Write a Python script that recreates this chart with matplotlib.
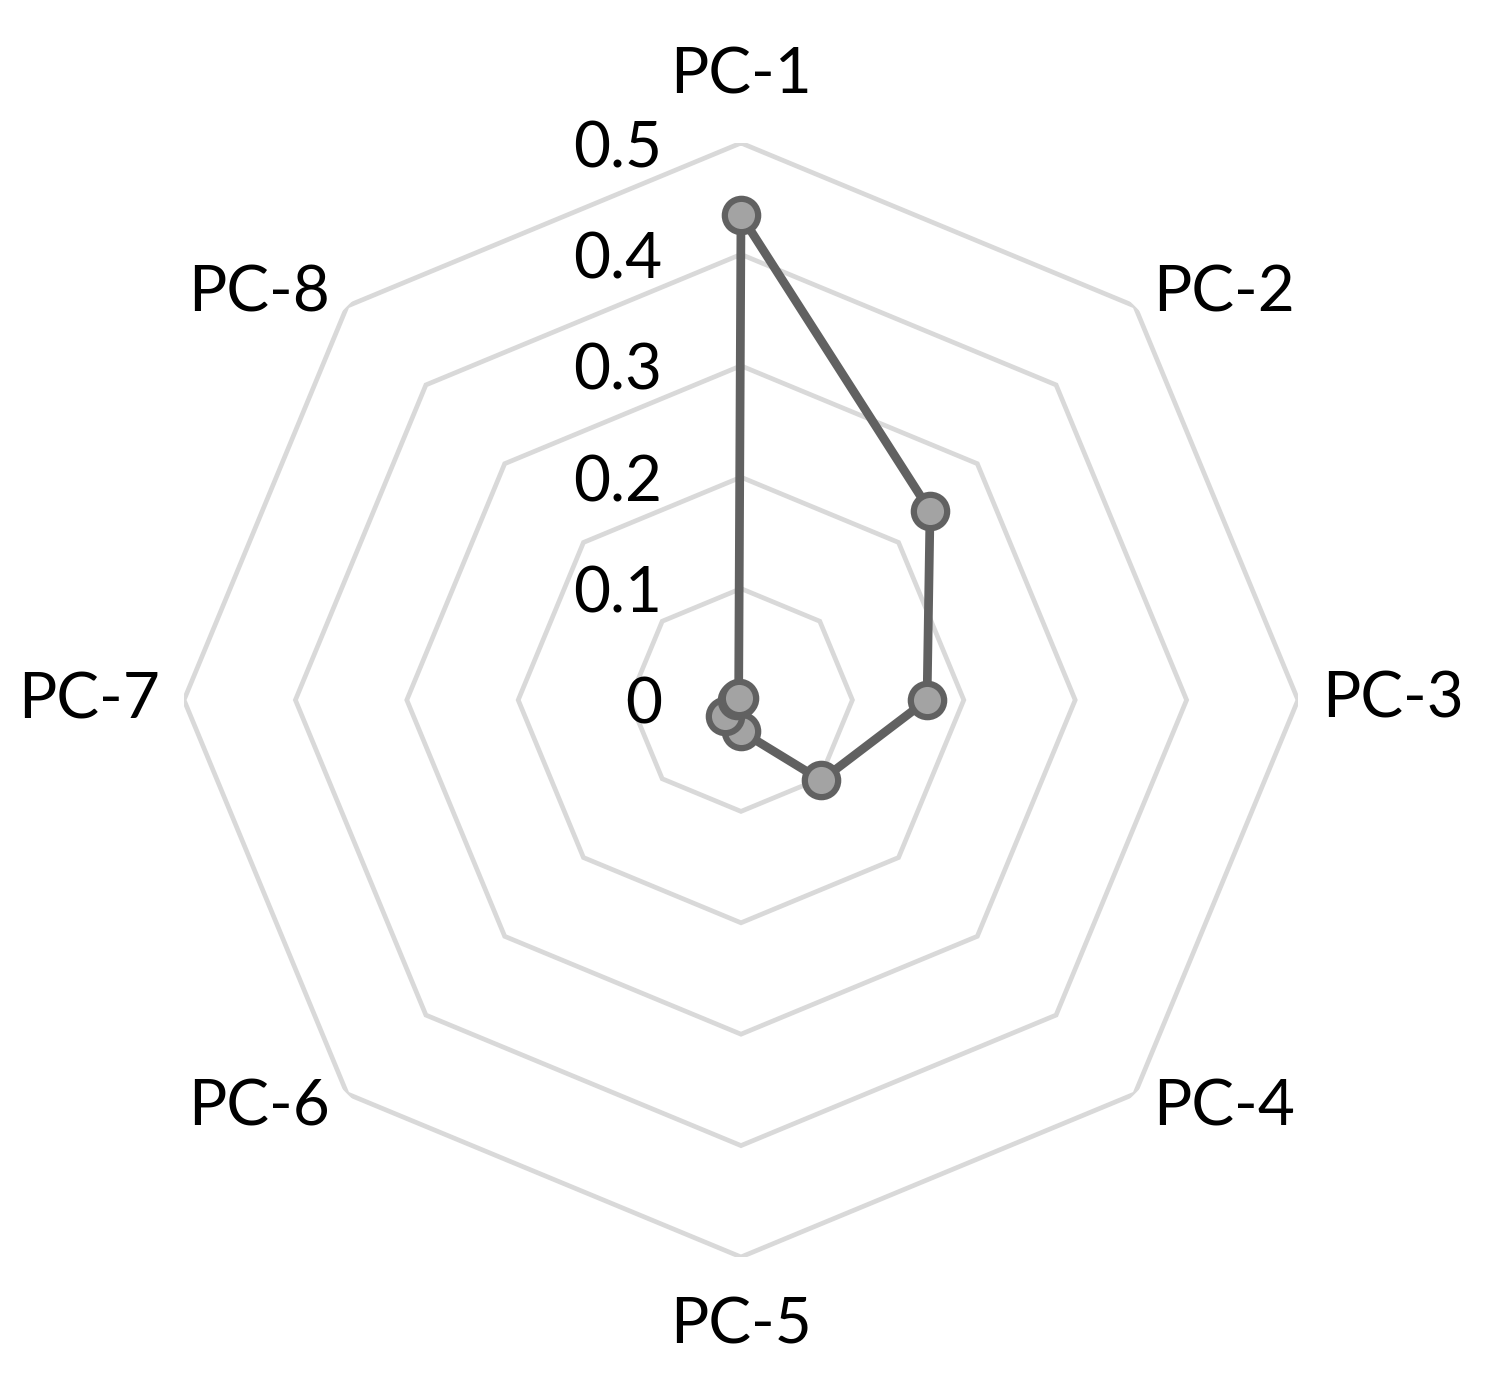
import numpy as np
import matplotlib
matplotlib.use("Agg")
import matplotlib.pyplot as plt

categories = ["PC-1", "PC-2", "PC-3", "PC-4", "PC-5", "PC-6", "PC-7", "PC-8"]
values = [0.435, 0.24, 0.167, 0.102, 0.028, 0.02, 0.004, 0.003]
rings = [0.1, 0.2, 0.3, 0.4, 0.5]
ring_labels = ["0", "0.1", "0.2", "0.3", "0.4", "0.5"]

plt.rcParams["font.family"] = ["Lato", "DejaVu Sans"]

W, H = 1488, 1380
cx, cy, R = 741, 700, 557
fig = plt.figure(figsize=(W / 100, H / 100), dpi=100)
ax = fig.add_axes([(cx - R) / W, (H - cy - R) / H, 2 * R / W, 2 * R / H],
                  projection="polar")
ax.set_theta_offset(np.pi / 2)
ax.set_theta_direction(-1)
ax.set_ylim(0, 0.5)
ax.grid(False)
ax.spines["polar"].set_visible(False)
ax.set_xticks([])
ax.set_yticks([])
ax.patch.set_alpha(0)

n = len(categories)
theta = np.arange(n) * 2 * np.pi / n
closed = np.append(theta, theta[0])

for r in rings:
    ax.plot(closed, [r] * (n + 1), color="#d9d9d9", lw=3.4, zorder=1,
            solid_joinstyle="miter")

ax.plot(closed, values + values[:1], color="#616161", lw=6.3, zorder=3,
        solid_joinstyle="round")
ax.plot(theta, values, linestyle="none", marker="o", markersize=24,
        markerfacecolor="#a3a3a3", markeredgecolor="#616161",
        markeredgewidth=4.5, zorder=4)

# radial value labels
for r, lab in zip([0.0] + rings, ring_labels):
    ax.annotate(lab, xy=(0, r), xytext=(-79, -6),
                textcoords="offset pixels", ha="right", va="center",
                fontsize=46, color="black")

# category labels
offsets = [(0, 68, "center"), (18, 13, "left"), (24, 0, "left"),
           (18, -14, "left"), (0, -68, "center"), (-17, -14, "right"),
           (-24, 0, "right"), (-17, 13, "right")]
for t, lab, (dx, dy, ha) in zip(theta, categories, offsets):
    ax.annotate(lab, xy=(t, 0.5), xytext=(dx, dy), textcoords="offset pixels",
                ha=ha, va="center", fontsize=46, color="black")

fig.savefig("out.png", dpi=100, facecolor="white")
